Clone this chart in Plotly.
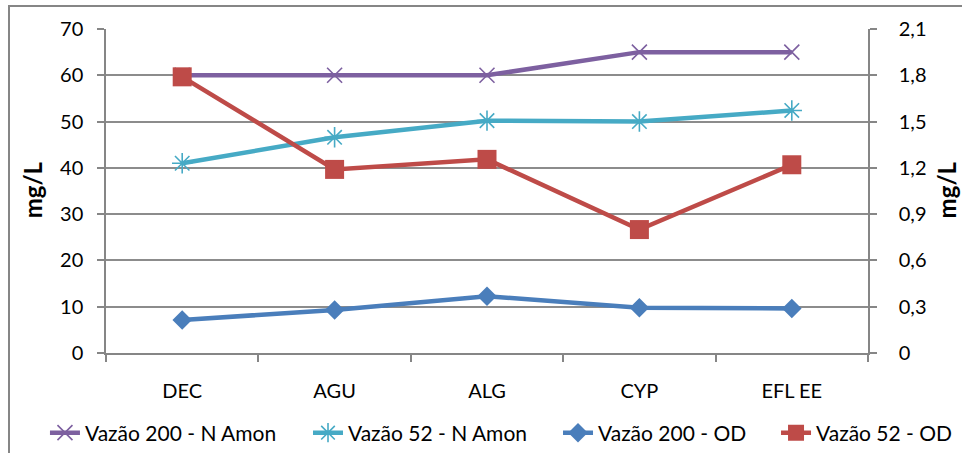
import plotly.graph_objects as go

# Sampling points along the treatment line
categories = ["DEC", "AGU", "ALG", "CYP", "EFL EE"]

# Ammonia nitrogen (left axis, mg/L)
n_amon_200 = [60, 60, 60, 65, 65]
n_amon_52 = [41, 46.6, 50.2, 50, 52.4]

# Dissolved oxygen (right axis, mg/L)
od_200 = [0.214, 0.279, 0.368, 0.293, 0.289]
od_52 = [1.79, 1.19, 1.255, 0.80, 1.22]

left_ticks = [0, 10, 20, 30, 40, 50, 60, 70]
right_ticks = [0, 0.3, 0.6, 0.9, 1.2, 1.5, 1.8, 2.1]

FONT = "Lato"
AXIS_GRAY = "#868686"

fig = go.Figure()

fig.add_trace(go.Scatter(
    x=categories, y=n_amon_200, name="Vazão 200 - N Amon", mode="lines+markers",
    line=dict(color="#7D60A0", width=4.5),
    marker=dict(symbol="x-thin-open", size=15, line=dict(color="#7D60A0", width=1.6)),
    yaxis="y", legend="legend",
))
fig.add_trace(go.Scatter(
    x=categories, y=n_amon_52, name="Vazão 52 - N Amon", mode="lines+markers",
    line=dict(color="#46AAC5", width=4.5),
    marker=dict(symbol="asterisk-open", size=17, line=dict(color="#46AAC5", width=1.6)),
    yaxis="y", legend="legend2",
))
fig.add_trace(go.Scatter(
    x=categories, y=od_200, name="Vazão 200 - OD", mode="lines+markers",
    line=dict(color="#4A7EBB", width=4.5),
    marker=dict(symbol="diamond", size=15, color="#4A7EBB"),
    yaxis="y2", legend="legend3",
))
fig.add_trace(go.Scatter(
    x=categories, y=od_52, name="Vazão 52 - OD", mode="lines+markers",
    line=dict(color="#BE4B48", width=4.5),
    marker=dict(symbol="square", size=19, color="#BE4B48"),
    yaxis="y2", legend="legend4",
))


def legend_box(x):
    return dict(
        orientation="h", x=x, xanchor="left", y=-0.247, yanchor="middle",
        font=dict(family=FONT, size=21, color="black"),
        bgcolor="rgba(0,0,0,0)", itemwidth=30,
    )


fig.update_layout(
    width=962, height=453,
    margin=dict(l=106, r=94, t=29, b=100, autoexpand=False),
    paper_bgcolor="white", plot_bgcolor="white",
    separators=",.",
    font=dict(family=FONT, size=20, color="black"),
    showlegend=True,
    legend=legend_box(-0.0801),
    legend2=legend_box(0.2651),
    legend3=legend_box(0.5932),
    legend4=legend_box(0.8793),
    xaxis=dict(
        type="category", range=[-0.5, 4.5], showgrid=False,
        showline=True, linecolor=AXIS_GRAY, linewidth=1.5,
        ticks="outside", tickson="boundaries", ticklen=7, tickcolor=AXIS_GRAY, tickwidth=1.5,
        ticklabelstandoff=19, zeroline=False,
    ),
    yaxis=dict(
        range=[0, 70], tickvals=left_ticks, showgrid=True,
        gridcolor="#8C8C8C", gridwidth=1.5,
        showline=True, linecolor=AXIS_GRAY, linewidth=1.5,
        ticks="outside", ticklen=7, tickcolor=AXIS_GRAY, tickwidth=1.5,
        ticklabelstandoff=10, zeroline=False,
    ),
    yaxis2=dict(
        range=[0, 2.1], tickvals=right_ticks, overlaying="y", side="right",
        showgrid=False, showline=True, linecolor=AXIS_GRAY, linewidth=1.5,
        ticks="outside", ticklen=7, tickcolor=AXIS_GRAY, tickwidth=1.5,
        ticklabelstandoff=18, zeroline=False,
    ),
    shapes=[dict(
        type="rect", xref="paper", yref="paper",
        x0=-0.1273, x1=1.2, y0=-0.4, y1=1.071,
        line=dict(color=AXIS_GRAY, width=2), fillcolor="rgba(0,0,0,0)", layer="below",
    )],
    annotations=[
        dict(text="<b>mg/L</b>", xref="paper", yref="paper", x=-0.0971, y=0.502,
             textangle=-90, showarrow=False, font=dict(family=FONT, size=24),
             xanchor="center", yanchor="middle"),
        dict(text="<b>mg/L</b>", xref="paper", yref="paper", x=1.1024, y=0.502,
             textangle=-90, showarrow=False, font=dict(family=FONT, size=24),
             xanchor="center", yanchor="middle"),
    ],
)

fig.write_html("out.html")
